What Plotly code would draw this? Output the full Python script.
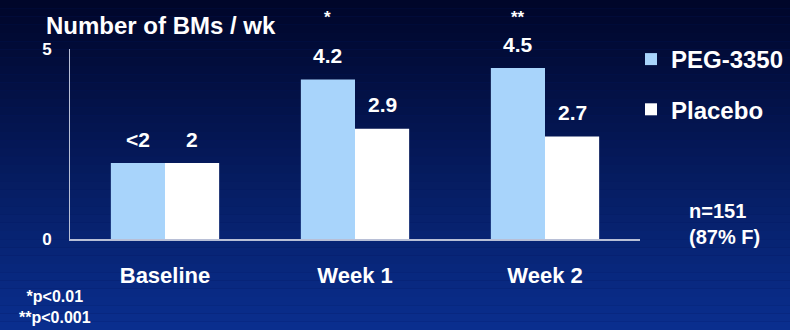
import plotly.graph_objects as go

categories = ["Baseline", "Week 1", "Week 2"]
peg_values = [2, 4.2, 4.5]
placebo_values = [2, 2.9, 2.7]
peg_labels = ["<2", "4.2", "4.5"]
placebo_labels = ["2", "2.9", "2.7"]
sig_marks = ["", "*", "**"]
y_ticks = [0, 5]

FONT = "Liberation Sans, Arial, sans-serif"
PEG_COLOR = "#a8d4fb"
PLA_COLOR = "#ffffff"

fig = go.Figure()
fig.add_trace(go.Bar(x=categories, y=peg_values, name="PEG-3350",
                     marker=dict(color=PEG_COLOR, line=dict(width=0)),
                     legendgroup="a"))
fig.add_trace(go.Bar(x=categories, y=placebo_values, name="Placebo",
                     marker=dict(color=PLA_COLOR, line=dict(width=0)),
                     legendgroup="b"))

bargap = 0.43
bw = (1 - bargap) / 2
annotations = []
for i, c in enumerate(categories):
    annotations.append(dict(x=i - bw / 2, y=peg_values[i], xref="x", yref="y",
                            text=peg_labels[i], showarrow=False, yshift=24,
                            font=dict(size=21, color="white", family=FONT, weight="bold")))
    annotations.append(dict(x=i + bw / 2, y=placebo_values[i], xref="x", yref="y",
                            text=placebo_labels[i], showarrow=False, yshift=24,
                            font=dict(size=21, color="white", family=FONT, weight="bold")))
    if sig_marks[i]:
        annotations.append(dict(x=i - bw / 2, y=(239 - 18) / 190, xref="x", yref="paper",
                                text=sig_marks[i], showarrow=False, yanchor="middle",
                                font=dict(size=17, color="white", family=FONT, weight="bold")))

annotations.append(dict(x=-26 / 570, y=(239 - 25) / 190, xref="paper", yref="paper",
                        xanchor="left", yanchor="middle", showarrow=False,
                        text="Number of BMs / wk",
                        font=dict(size=24, color="white", family=FONT, weight="bold")))
annotations.append(dict(x=(55 - 70) / 570, y=-(307 - 239) / 190, xref="paper", yref="paper",
                        xanchor="center", yanchor="middle", showarrow=False, align="center",
                        text="*p<0.01<br>**p<0.001",
                        font=dict(size=16, color="white", family=FONT, weight="bold")))
annotations.append(dict(x=(687 - 70) / 570, y=(239 - 224) / 190, xref="paper", yref="paper",
                        xanchor="left", yanchor="middle", showarrow=False, align="left",
                        text="n=151<br>(87% F)",
                        font=dict(size=20, color="white", family=FONT, weight="bold")))

# background gradient stripes
shapes = []
N = 40
top = (0, 6, 42)
bot = (10, 46, 142)
for k in range(N):
    t = k / (N - 1)
    col = tuple(int(round(top[j] + (bot[j] - top[j]) * t)) for j in range(3))
    y1 = (239 - 330 * k / N) / 190
    y0 = (239 - 330 * (k + 1) / N) / 190
    shapes.append(dict(type="rect", xref="paper", yref="paper", x0=-0.2, x1=1.4,
                       y0=y0, y1=y1, fillcolor="rgb(%d,%d,%d)" % col,
                       line=dict(width=0), layer="below"))

fig.update_layout(
    width=790, height=330,
    margin=dict(l=70, r=150, t=49, b=91, autoexpand=False),
    paper_bgcolor="rgb(5,25,95)",
    plot_bgcolor="rgba(0,0,0,0)",
    barmode="group", bargap=bargap, bargroupgap=0,
    showlegend=True,
    legend=dict(x=(631 - 70) / 570, y=(239 - 37) / 190, xanchor="left", yanchor="top",
                traceorder="grouped", tracegroupgap=16,
                font=dict(size=24, color="white", family=FONT, weight="bold"),
                bgcolor="rgba(0,0,0,0)"),
    shapes=shapes,
    annotations=annotations,
    xaxis=dict(type="category", range=[-0.5, 2.5], showgrid=False,
               showline=True, linecolor="#b8bfd6", linewidth=2,
               ticks="", ticklabelstandoff=16,
               tickfont=dict(size=22, color="white", family=FONT, weight="bold")),
    yaxis=dict(range=[0, 5], tickvals=y_ticks, showgrid=False, zeroline=False,
               showline=True, linecolor="#b8bfd6", linewidth=1,
               ticks="inside", ticklen=6, tickcolor="#b8bfd6",
               ticklabelstandoff=14,
               tickfont=dict(size=17, color="white", family=FONT, weight="bold")),
)

fig.write_html("out.html")
